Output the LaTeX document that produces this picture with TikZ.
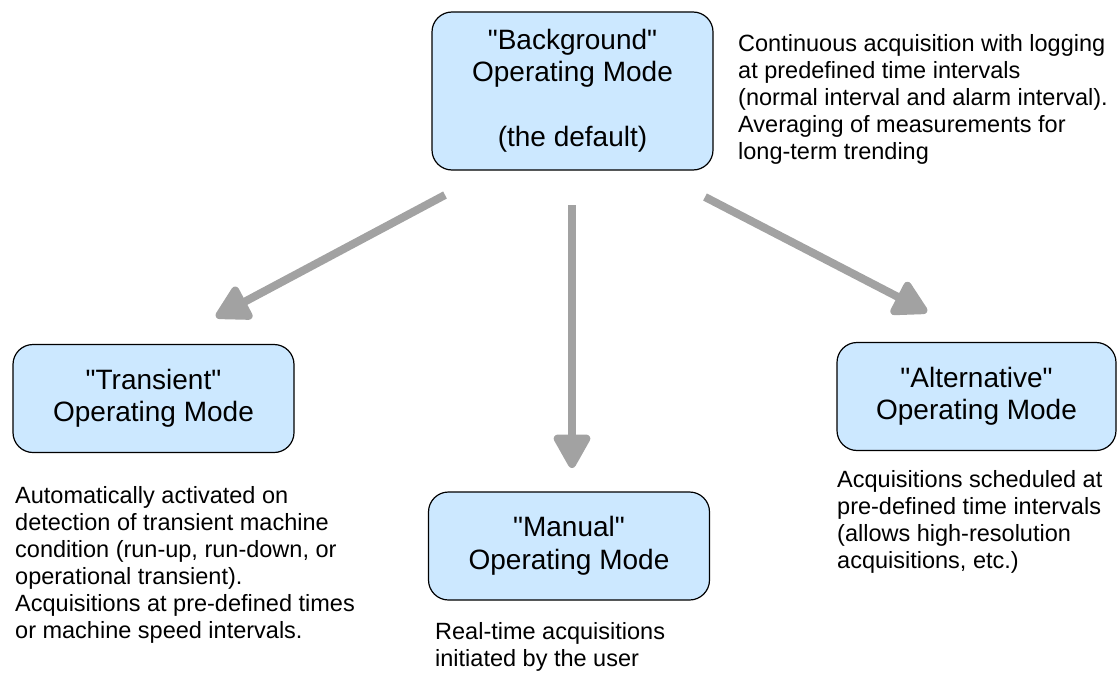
\documentclass[tikz,border=0pt]{standalone}
\usepackage{fontspec}
\setmainfont{Liberation Sans}[Ligatures=TeXOff]
\usetikzlibrary{arrows.meta}
\definecolor{modefill}{HTML}{CCE8FF}
\definecolor{arrowgray}{HTML}{A2A2A2}

\tikzset{
  modebox/.style={draw,rounded corners=20pt,fill=modefill,line width=1.2pt,minimum width=281pt,minimum height=108pt,align=center,font=\fontsize{28}{32.5}\selectfont},
  notetext/.style={anchor=north west,align=left,inner sep=0pt,font=\fontsize{23.5}{27}\selectfont},
  modearrow/.style={arrowgray,line width=8pt,-{Triangle[length=38pt,width=40pt,round]}}
}

\begin{document}
\begin{tikzpicture}[x=1pt,y=-1pt]
  \useasboundingbox (0,0) rectangle (1118,674);
  \node[modebox,minimum height=158pt] (background) at (572.5,91) {"Background"\\Operating Mode\\[32.5pt](the default)};
  \node[modebox] (transient) at (153.5,398.5) {"Transient"\\Operating Mode};
  \node[modebox] (manual) at (569,546) {"Manual"\\Operating Mode};
  \node[modebox,minimum width=279pt] (alternative) at (976.5,396.5) {"Alternative"\\Operating Mode};
  \node[notetext] (backgroundnote) at (738,34) {Continuous acquisition with logging\\at predefined time intervals\\(normal interval and alarm interval).\\Averaging of measurements for\\long-term trending};
  \node[notetext] (transientnote) at (15,486) {Automatically activated on\\detection of transient machine\\condition (run-up, run-down, or\\operational transient).\\Acquisitions at pre-defined times\\or machine speed intervals.};
  \node[notetext] (manualnote) at (435,622) {Real-time acquisitions\\initiated by the user};
  \node[notetext] (alternativenote) at (837,470) {Acquisitions scheduled at\\pre-defined time intervals\\(allows high-resolution\\acquisitions, etc.)};
  \coordinate (leftstart) at (445,195);
  \coordinate (lefttip) at (216,317);
  \coordinate (midstart) at (572,205);
  \coordinate (midtip) at (572,468);
  \coordinate (rightstart) at (705,197);
  \coordinate (righttip) at (927,312);
  \draw[modearrow] (leftstart) -- (lefttip);
  \draw[modearrow] (midstart) -- (midtip);
  \draw[modearrow] (rightstart) -- (righttip);
\end{tikzpicture}
\end{document}
